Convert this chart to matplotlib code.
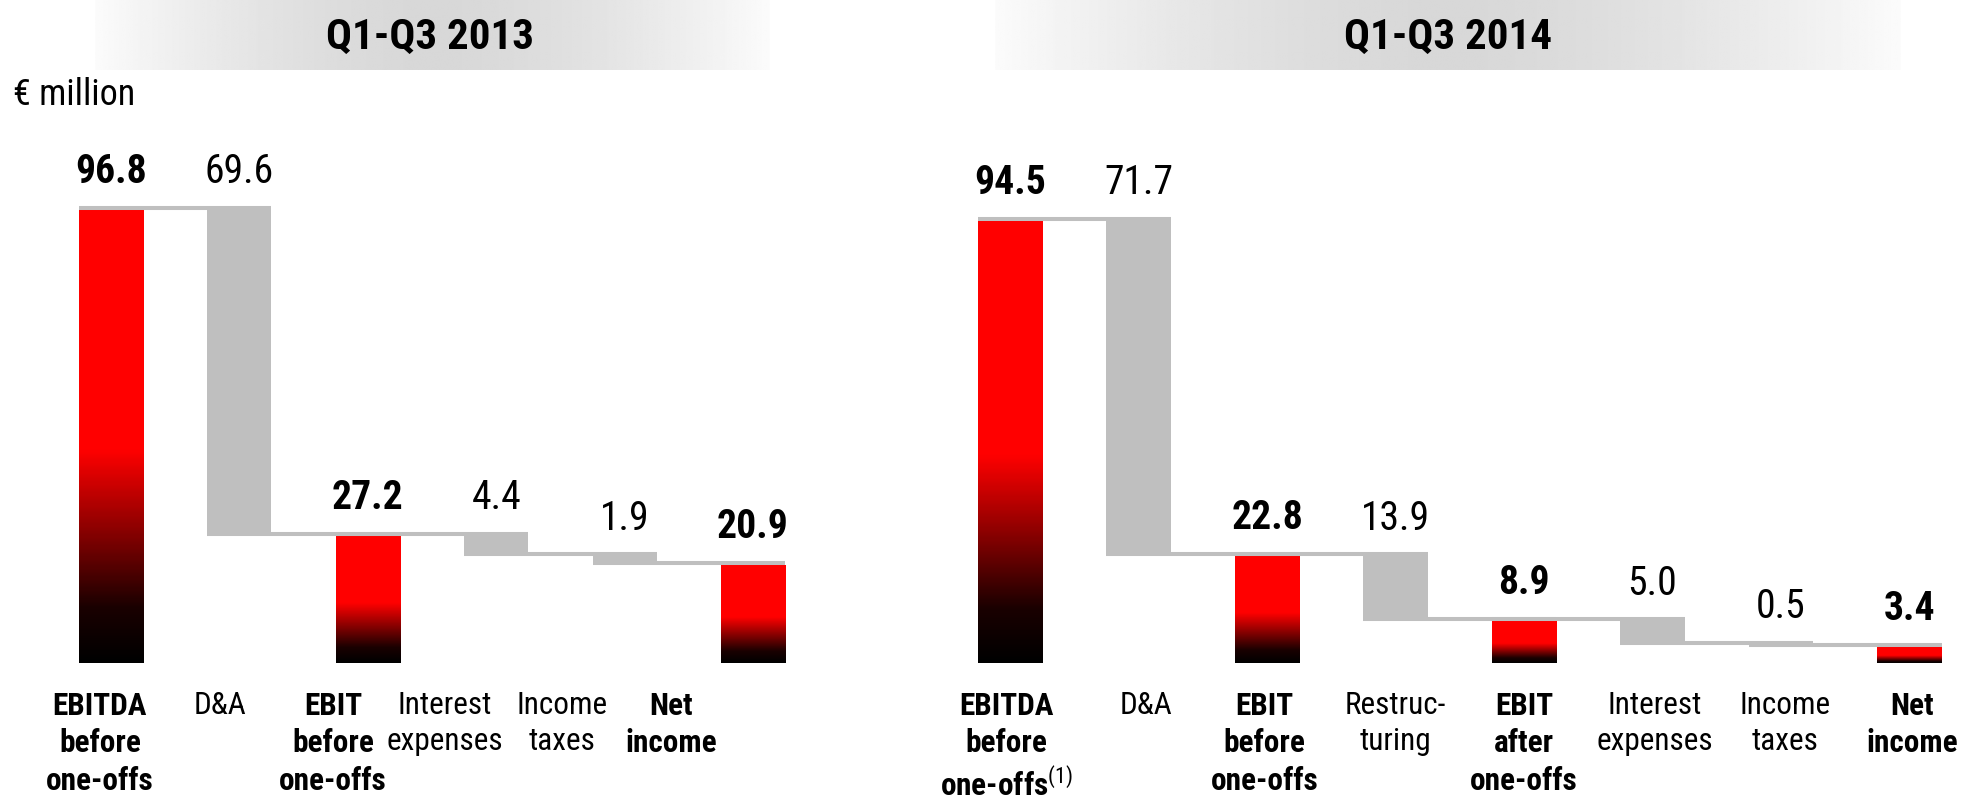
import numpy as np
import matplotlib
matplotlib.use("Agg")
import matplotlib.pyplot as plt
import matplotlib.transforms as mtransforms
from matplotlib.colors import LinearSegmentedColormap

# ---------------- data ----------------
titles = ["Q1-Q3 2013", "Q1-Q3 2014"]
unit_label = "€ million"

labels_2013 = ["EBITDA\nbefore\none-offs", "D&A", "EBIT\nbefore\none-offs",
               "Interest\nexpenses", "Income\ntaxes", "Net\nincome"]
values_2013 = [96.8, 69.6, 27.2, 4.4, 1.9, 20.9]
kinds_2013 = ["total", "delta", "total", "delta", "delta", "total"]

labels_2014 = ["EBITDA\nbefore\none-offs$^{(1)}$", "D&A", "EBIT\nbefore\none-offs",
               "Restruc-\nturing", "EBIT\nafter\none-offs", "Interest\nexpenses",
               "Income\ntaxes", "Net\nincome"]
values_2014 = [94.5, 71.7, 22.8, 13.9, 8.9, 5.0, 0.5, 3.4]
kinds_2014 = ["total", "delta", "total", "delta", "total", "delta", "delta", "total"]

# label x-positions (category label boxes, in bar-index units)
label_pos_2013 = [-0.086, 0.848, 1.73, 2.60, 3.51, 4.36]
label_pos_2014 = [-0.03, 0.06, -0.02, 0.0, 0.0, 0.02, 0.03, 0.02]  # offsets from bar centre

# ---------------- style ----------------
FONT = ["Liberation Sans Narrow", "Roboto Condensed", "DejaVu Sans Condensed", "Liberation Sans", "DejaVu Sans"]
plt.rcParams["font.family"] = FONT
plt.rcParams["mathtext.fontset"] = "custom"
plt.rcParams["mathtext.rm"] = "Roboto Condensed"
plt.rcParams["mathtext.it"] = "Roboto Condensed"
plt.rcParams["mathtext.bf"] = "Roboto Condensed"

GRAY = "#BFBFBF"
BASE = "#888888"
red_cmap = LinearSegmentedColormap.from_list(
    "redgrad", [(0.0, "#000000"), (0.12, "#1a0000"), (0.47, "#FF0000"), (1.0, "#FF0000")])

W, H, DPI = 19.63, 7.96, 100
fig = plt.figure(figsize=(W, H), dpi=DPI)
FW, FH = W * DPI, H * DPI

PX_PER_UNIT = 4.68
base_px = 663
top_px = 140
ymax = (base_px - top_px) / PX_PER_UNIT


def fig_rect(x0, x1):
    return [x0 / FW, (FH - base_px) / FH, (x1 - x0) / FW, (base_px - top_px) / FH]


# title bands (horizontal gradient)
def band(x0, x1, y0, y1):
    bax = fig.add_axes([x0 / FW, 1 - y1 / FH, (x1 - x0) / FW, (y1 - y0) / FH])
    t = np.linspace(-1, 1, 400)
    g = 0.985 - 0.14 * (1 - np.abs(t) ** 1.6)
    img = np.repeat(g[None, :], 2, axis=0)
    bax.imshow(img, cmap="gray", vmin=0, vmax=1, aspect="auto")
    bax.set_axis_off()


band(95, 770, 0, 70)
band(995, 1900, 0, 70)
fig.text(430 / FW, 1 - 37 / FH, titles[0], ha="center", va="center",
         fontsize=31, fontweight="bold")
fig.text(1448 / FW, 1 - 37 / FH, titles[1], ha="center", va="center",
         fontsize=31, fontweight="bold")
fig.text(13 / FW, 1 - 95 / FH, unit_label, ha="left", va="center", fontsize=26)


def waterfall(ax, labels, values, kinds, label_x, xlim):
    n = len(values)
    x = np.arange(n)
    w = 0.5
    up = mtransforms.offset_copy(ax.transData, fig=fig, x=0, y=2, units="dots")
    down = mtransforms.offset_copy(ax.transData, fig=fig, x=0, y=-2.5, units="dots")
    level = 0.0
    levels = []
    tops = []
    for i, (v, k) in enumerate(zip(values, kinds)):
        if k == "total":
            level = v
            ax.bar(x[i], v, width=w, color="none", zorder=2)
            grad = np.linspace(0, 1, 300).reshape(-1, 1)
            ax.imshow(grad, cmap=red_cmap, aspect="auto", origin="lower",
                      extent=[x[i] - w / 2, x[i] + w / 2, 0, v], zorder=2,
                      interpolation="bilinear")
            tops.append(v)
        else:
            prev = level
            level = prev - v
            ax.bar(x[i], v, width=w, bottom=level, color=GRAY, zorder=2)
            tops.append(prev)
        levels.append(level)
    # connectors
    for i in range(n - 1):
        ax.plot([x[i] - w / 2, x[i + 1] + w / 2], [levels[i], levels[i]],
                color=GRAY, lw=2.9, solid_capstyle="butt", transform=up, zorder=3)
    # value labels
    for i in range(n):
        bold = kinds[i] == "total"
        ax.annotate(f"{values[i]:.1f}", xy=(x[i], tops[i]), xytext=(0, 27.5),
                    textcoords="offset points", ha="center", va="center",
                    fontsize=28.5, fontweight="bold" if bold else "normal",
                    annotation_clip=False)
    # category labels
    for i in range(n):
        bold = kinds[i] == "total"
        ax.annotate(labels[i], xy=(label_x[i], 0), xytext=(0, -20),
                    textcoords="offset points", ha="center", va="top",
                    fontsize=22.5, fontweight="bold" if bold else "normal",
                    linespacing=1.32, annotation_clip=False)
    # baseline
    ax.plot(list(xlim), [0, 0], color=BASE, lw=3.6, transform=down,
            solid_capstyle="butt", zorder=4)
    ax.set_xlim(*xlim)
    ax.set_ylim(0, ymax)
    ax.set_axis_off()


ax1 = fig.add_axes(fig_rect(47, 826))
waterfall(ax1, labels_2013, values_2013, kinds_2013, label_pos_2013, (-0.498, 5.568))

ax2 = fig.add_axes(fig_rect(935, 1963))
lp14 = [i + d for i, d in enumerate(label_pos_2014)]
waterfall(ax2, labels_2014, values_2014, kinds_2014, lp14, (-0.584, 7.416))

fig.savefig("out.png", dpi=DPI)
